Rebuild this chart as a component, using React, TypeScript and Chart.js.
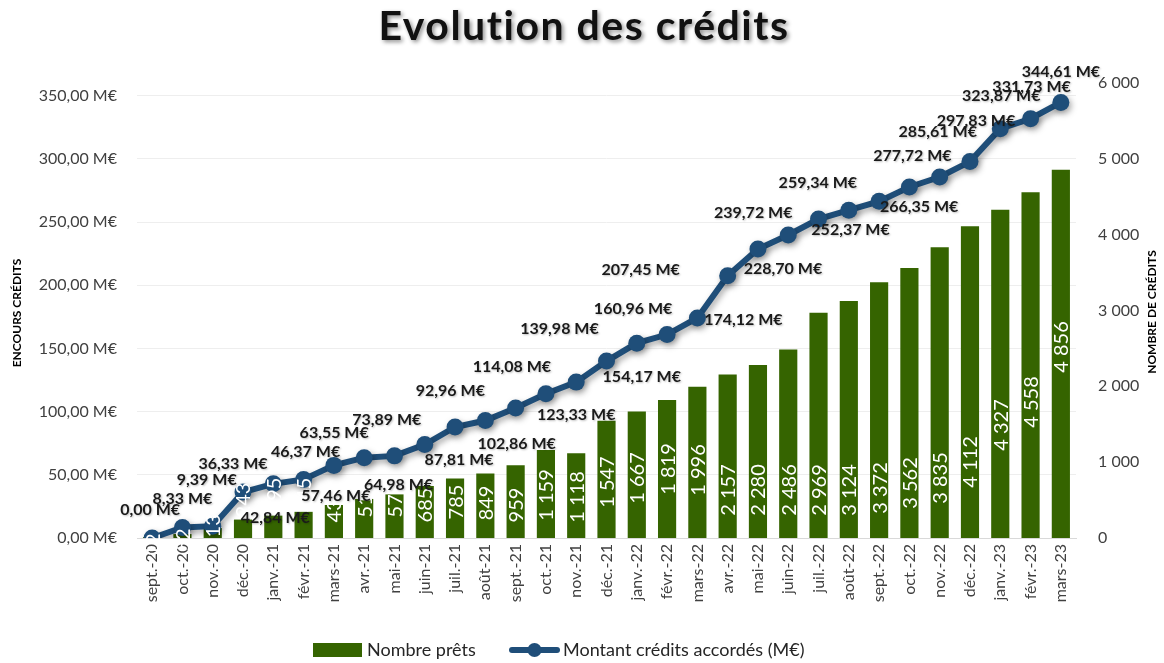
import React, { useEffect, useRef } from 'react';
import { Chart, registerables } from 'chart.js';

Chart.register(...registerables);

const FONT = 'Lato, "Open Sans", sans-serif';

const categories = [
  'sept.-20', 'oct.-20', 'nov.-20', 'déc.-20', 'janv.-21', 'févr.-21', 'mars-21', 'avr.-21',
  'mai-21', 'juin-21', 'juil.-21', 'août-21', 'sept.-21', 'oct.-21', 'nov.-21', 'déc.-21',
  'janv.-22', 'févr.-22', 'mars-22', 'avr.-22', 'mai-22', 'juin-22', 'juil.-22', 'août-22',
  'sept.-22', 'oct.-22', 'nov.-22', 'déc.-22', 'janv.-23', 'févr.-23', 'mars-23',
];

const nombrePrets = [
  12, 52, 131, 243, 295, 345, 435, 515, 575, 685, 785, 849, 959, 1159, 1118, 1547,
  1667, 1819, 1996, 2157, 2280, 2486, 2969, 3124, 3372, 3562, 3835, 4112, 4327, 4558, 4856,
];

const montantCredits = [
  0.0, 8.33, 9.39, 36.33, 42.84, 46.37, 57.46, 63.55, 64.98, 73.89, 87.81, 92.96, 102.86,
  114.08, 123.33, 139.98, 154.17, 160.96, 174.12, 207.45, 228.7, 239.72, 252.37, 259.34,
  266.35, 277.72, 285.61, 297.83, 323.87, 331.73, 344.61,
];

const leftTicks = [0, 50, 100, 150, 200, 250, 300, 350];
const rightTicks = [0, 1000, 2000, 3000, 4000, 5000, 6000];

// label placement (count units on the right axis) for bar labels
const barLabelAt = [
  -92, -26, 237, 501, 567, 567, 435, 501, 501, 435, 475, 462, 435, 567, 541, 738,
  791, 910, 897, 633, 633, 633, 633, 633, 659, 725, 791, 1002, 1490, 1793, 2519,
];

// label offsets (px) relative to the line points
const lineLabelOffsets: [number, number][] = [
  [-2, -28], [0, -29], [-6, -46], [-10, -28], [2, 34], [2, -28], [2, 30], [-30, -25],
  [4, 29], [-38, -25], [4, 33], [-35, -30], [1, 36], [-34, -27], [0, 33], [-47, -32],
  [5, 34], [-34, -26], [46, 2], [-87, -6], [25, 20], [-35, -22], [32, 11], [-31, -27],
  [40, 5], [3, -31], [-2, -45], [6, -41], [1, -33], [1, -32], [0, -31],
];

const GREEN = '#356400';
const BLUE = '#1F4E79';

const fmtM = (v: number) => v.toFixed(2).replace('.', ',') + ' M€';
const fmtN = (n: number) =>
  n >= 1000 ? `${Math.floor(n / 1000)} ${String(n % 1000).padStart(3, '0')}` : String(n);

const decorPlugin = {
  id: 'decor',
  beforeDatasetDraw(chart: any, args: any) {
    if (args.index === 1) {
      const ctx = chart.ctx;
      ctx.save();
      ctx.shadowColor = 'rgba(0,0,0,0.35)';
      ctx.shadowBlur = 6;
      ctx.shadowOffsetX = 2;
      ctx.shadowOffsetY = 3;
    }
  },
  afterDatasetDraw(chart: any, args: any) {
    if (args.index === 1) chart.ctx.restore();
  },
  afterDatasetsDraw(chart: any) {
    const ctx = chart.ctx;
    const y1 = chart.scales.y1;
    const barMeta = chart.getDatasetMeta(0);
    ctx.save();
    ctx.fillStyle = '#ffffff';
    ctx.font = `20px ${FONT}`;
    ctx.textAlign = 'center';
    ctx.textBaseline = 'middle';
    barMeta.data.forEach((el: any, i: number) => {
      const yy = y1.getPixelForValue(barLabelAt[i]);
      ctx.save();
      ctx.translate(el.x, yy);
      ctx.rotate(-Math.PI / 2);
      ctx.fillText(fmtN(nombrePrets[i]), 0, 1);
      ctx.restore();
    });
    ctx.restore();

    const lineMeta = chart.getDatasetMeta(1);
    ctx.save();
    ctx.fillStyle = '#1a1a1a';
    ctx.font = `bold 16px ${FONT}`;
    ctx.textAlign = 'center';
    ctx.textBaseline = 'middle';
    ctx.shadowColor = 'rgba(0,0,0,0.25)';
    ctx.shadowBlur = 2;
    ctx.shadowOffsetX = 1;
    ctx.shadowOffsetY = 1;
    lineMeta.data.forEach((pt: any, i: number) => {
      const [dx, dy] = lineLabelOffsets[i];
      ctx.fillText(fmtM(montantCredits[i]), pt.x + dx, pt.y + dy);
    });
    ctx.restore();
  },
  afterDraw(chart: any) {
    const ctx = chart.ctx;
    // title
    ctx.save();
    ctx.font = `bold 41px ${FONT}`;
    (ctx as any).letterSpacing = '1.5px';
    ctx.fillStyle = '#111111';
    ctx.textAlign = 'center';
    ctx.textBaseline = 'middle';
    ctx.shadowColor = 'rgba(0,0,0,0.45)';
    ctx.shadowBlur = 4;
    ctx.shadowOffsetX = 2;
    ctx.shadowOffsetY = 2;
    ctx.fillText('Evolution des crédits', 584, 27);
    ctx.restore();

    // axis titles
    ctx.save();
    ctx.font = `bold 12px ${FONT}`;
    ctx.fillStyle = '#000000';
    ctx.textAlign = 'center';
    ctx.textBaseline = 'middle';
    ctx.translate(17, 313);
    ctx.rotate(-Math.PI / 2);
    ctx.fillText('ENCOURS CRÉDITS', 0, 0);
    ctx.restore();
    ctx.save();
    ctx.font = `bold 12px ${FONT}`;
    ctx.fillStyle = '#000000';
    ctx.textAlign = 'center';
    ctx.textBaseline = 'middle';
    ctx.translate(1152, 312);
    ctx.rotate(-Math.PI / 2);
    ctx.fillText('NOMBRE DE CRÉDITS', 0, 0);
    ctx.restore();

    // legend
    ctx.save();
    const ly = 650;
    ctx.fillStyle = GREEN;
    ctx.fillRect(313, ly - 7, 49, 14);
    ctx.font = `18px ${FONT}`;
    ctx.fillStyle = '#262626';
    ctx.textAlign = 'left';
    ctx.textBaseline = 'middle';
    ctx.fillText(chart.data.datasets[0].label, 367, ly);
    ctx.strokeStyle = BLUE;
    ctx.lineWidth = 6;
    ctx.lineCap = 'round';
    ctx.beginPath();
    ctx.moveTo(512, ly);
    ctx.lineTo(557, ly);
    ctx.stroke();
    ctx.fillStyle = BLUE;
    ctx.beginPath();
    ctx.arc(534.5, ly, 7, 0, Math.PI * 2);
    ctx.fill();
    ctx.fillStyle = '#262626';
    ctx.fillText(chart.data.datasets[1].label, 563, ly);
    ctx.restore();
  },
};

export default function App() {
  const ref = useRef<HTMLCanvasElement | null>(null);
  useEffect(() => {
    if (!ref.current) return;
    const chart = new Chart(ref.current, {
      type: 'bar',
      data: {
        labels: categories,
        datasets: [
          {
            type: 'bar',
            label: 'Nombre prêts',
            data: nombrePrets,
            backgroundColor: GREEN,
            yAxisID: 'y1',
            order: 2,
            categoryPercentage: 1,
            barPercentage: 0.6,
          },
          {
            type: 'line',
            label: 'Montant crédits accordés (M€)',
            data: montantCredits,
            borderColor: BLUE,
            backgroundColor: BLUE,
            borderWidth: 6,
            pointRadius: 8.5,
            pointHoverRadius: 8.5,
            pointBackgroundColor: BLUE,
            pointBorderWidth: 0,
            yAxisID: 'y',
            order: 1,
            tension: 0,
          },
        ],
      },
      options: {
        animation: false,
        responsive: true,
        maintainAspectRatio: false,
        devicePixelRatio: 1,
        layout: { padding: { top: 83, left: 0, right: 0, bottom: 0 } },
        plugins: {
          legend: { display: false },
          title: { display: false },
          tooltip: { enabled: false },
        },
        scales: {
          x: {
            offset: true,
            grid: { display: false, drawTicks: false },
            border: { display: true, color: '#d9d9d9', width: 1 },
            ticks: {
              autoSkip: false,
              minRotation: 90,
              maxRotation: 90,
              padding: 6,
              color: '#404040',
              font: { family: FONT, size: 16 },
            },
            afterFit(s: any) {
              s.height = 125;
            },
          },
          y: {
            position: 'left',
            min: 0,
            max: 360,
            afterBuildTicks(s: any) {
              s.ticks = leftTicks.map((v) => ({ value: v }));
            },
            grid: { color: '#eeeeee', drawTicks: false },
            border: { display: false },
            ticks: {
              padding: 20,
              color: '#404040',
              font: { family: FONT, size: 16 },
              callback: (v: any) => fmtM(Number(v)),
            },
            afterFit(s: any) {
              s.width = 137;
            },
          },
          y1: {
            position: 'right',
            min: 0,
            max: 6000,
            afterBuildTicks(s: any) {
              s.ticks = rightTicks.map((v) => ({ value: v }));
            },
            grid: { display: false, drawTicks: false },
            border: { display: false },
            ticks: {
              padding: 22,
              color: '#404040',
              font: { family: FONT, size: 16 },
              callback: (v: any) => fmtN(Number(v)),
            },
            afterFit(s: any) {
              s.width = 88;
            },
          },
        },
      },
      plugins: [decorPlugin],
    } as any);
    return () => chart.destroy();
  }, []);
  return (
    <div style={{ position: 'fixed', left: 0, top: 0, width: 1164, height: 663, background: '#fff' }}>
      <canvas ref={ref} />
    </div>
  );
}
